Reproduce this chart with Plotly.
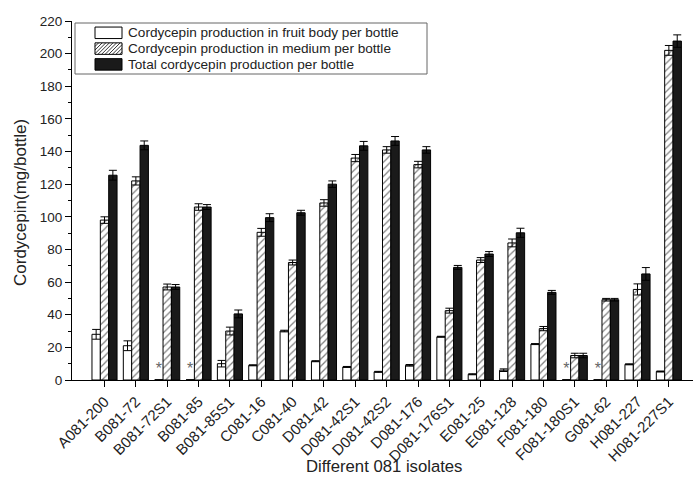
import plotly.graph_objects as go

isolates = ["A081-200", "B081-72", "B081-72S1", "B081-85", "B081-85S1", "C081-16",
            "C081-40", "D081-42", "D081-42S1", "D081-42S2", "D081-176", "D081-176S1",
            "E081-25", "E081-128", "F081-180", "F081-180S1", "G081-62", "H081-227",
            "H081-227S1"]

fruit_body = [28, 21, 0, 0, 10, 9, 30, 11.5, 8, 5, 9, 26.5, 3.5, 6, 22, 0, 0, 9.6, 5.2]
fruit_err = [3, 3, 0, 0, 2, 0.3, 0.5, 0.3, 0.3, 0.3, 0.5, 0.3, 0.3, 0.8, 0.3, 0, 0, 0.3, 0.3]

medium = [98, 122, 57, 106, 30, 90.5, 72, 108.5, 136, 141, 132, 42.5, 73.5, 84, 31.5, 15, 49.2, 55.5, 202]
medium_err = [2, 2.5, 1.8, 2, 2.4, 2.4, 1.5, 2, 2.2, 2, 2, 1.5, 1.5, 2.4, 1.3, 1.4, 0.8, 3.4, 3]

total = [125.5, 143.8, 57, 106, 40.5, 99.5, 102.5, 120, 143.5, 146.5, 141, 69, 77.2, 90.2, 53.7, 15, 49.2, 65, 207.7]
total_err = [3, 2.7, 1.5, 1.5, 2.4, 2.4, 1.5, 2, 2.7, 2.7, 2, 1.2, 1.5, 2.8, 1.2, 1.4, 0.8, 3.9, 3.8]

legend_names = ["Cordycepin production in fruit body per bottle",
                "Cordycepin production in medium per bottle",
                "Total cordycepin production per bottle"]

FONT = "Liberation Sans, Arial, sans-serif"
TXT = "#222222"

W, H = 693, 483
ML, MR, MT, MB = 72, 0, 21, 103
PW, PH = W - ML - MR, H - MT - MB


def px(x, y):
    """page pixel -> paper coords"""
    return (x - ML) / PW, (H - MB - y) / PH


star_text = ["*" if v == 0 else "" for v in fruit_body]

fig = go.Figure()
fig.add_trace(go.Bar(
    x=isolates, y=fruit_body, name=legend_names[0],
    marker=dict(color="white", line=dict(color="black", width=1)),
    error_y=dict(type="data", array=fruit_err, color="black", thickness=1, width=4),
    text=star_text, textposition="outside", cliponaxis=False,
    textfont=dict(family=FONT, size=16, color="#666666"),
))
fig.add_trace(go.Bar(
    x=isolates, y=medium, name=legend_names[1],
    marker=dict(color="white", line=dict(color="black", width=1),
                pattern=dict(shape="/", fgcolor="black", bgcolor="white",
                             size=5, solidity=0.25)),
    error_y=dict(type="data", array=medium_err, color="black", thickness=1, width=4),
))
fig.add_trace(go.Bar(
    x=isolates, y=total, name=legend_names[2],
    marker=dict(color="#1a1a1a", line=dict(color="black", width=1)),
    error_y=dict(type="data", array=total_err, color="black", thickness=1, width=4),
))

# ---- custom legend (box, swatches, labels) ----
shapes = []
annotations = []
bx0, by0 = px(75, 23)
bx1, by1 = px(427, 74)
shapes.append(dict(type="rect", xref="paper", yref="paper", x0=bx0, y0=by0, x1=bx1, y1=by1,
                   line=dict(color="#666666", width=1), fillcolor="white", layer="above"))
rows_y = [32.8, 48.6, 64.4]
sw_x0, sw_x1 = 95, 122
sw_h = 11.5
for i, (name, yc) in enumerate(zip(legend_names, rows_y)):
    ya, yb = yc - sw_h / 2, yc + sw_h / 2
    x0p, y0p = px(sw_x0, yb)
    x1p, y1p = px(sw_x1, ya)
    fill = "#1a1a1a" if i == 2 else "white"
    shapes.append(dict(type="rect", xref="paper", yref="paper", x0=x0p, y0=y0p, x1=x1p, y1=y1p,
                       line=dict(color="black", width=1), fillcolor=fill, layer="above"))
    if i == 1:
        # diagonal hatch lines clipped to swatch
        h = yb - ya
        path = ""
        c = sw_x0 - h
        while c < sw_x1:
            t0 = max(0.0, sw_x0 - c)
            t1 = min(h, sw_x1 - c)
            if t1 > t0:
                ax, ay = px(c + t0, yb - t0)
                bxx, byy = px(c + t1, yb - t1)
                path += f"M{ax},{ay}L{bxx},{byy}"
            c += 3.6
        shapes.append(dict(type="path", xref="paper", yref="paper", path=path,
                           line=dict(color="black", width=0.8), layer="above"))
    tx, ty = px(126, yc)
    annotations.append(dict(text=name, xref="paper", yref="paper", x=tx, y=ty,
                            xanchor="left", yanchor="middle", showarrow=False,
                            font=dict(family=FONT, size=13.6, color=TXT)))

# axis titles
tx, ty = px(384, 467)
annotations.append(dict(text="Different 081 isolates", xref="paper", yref="paper", x=tx, y=ty,
                        xanchor="center", yanchor="middle", showarrow=False,
                        font=dict(family=FONT, size=16.7, color=TXT)))
tx, ty = px(20, 203)
annotations.append(dict(text="Cordycepin(mg/bottle)", xref="paper", yref="paper", x=tx, y=ty,
                        xanchor="center", yanchor="middle", showarrow=False, textangle=-90,
                        font=dict(family=FONT, size=17, color=TXT)))

fig.update_layout(
    width=W, height=H,
    margin=dict(l=ML, r=MR, t=MT, b=MB, autoexpand=False),
    paper_bgcolor="white", plot_bgcolor="white",
    barmode="group", bargap=0.2, bargroupgap=0,
    font=dict(family=FONT, size=13, color=TXT),
    showlegend=False,
    shapes=shapes, annotations=annotations,
)
fig.update_xaxes(
    range=[-1.037, 18.77], showline=True, linecolor="black", linewidth=1.2,
    ticks="outside", ticklen=6, tickcolor="black", tickangle=-45, automargin=False,
    tickfont=dict(family=FONT, size=15, color=TXT),
    showgrid=False, zeroline=False,
)
fig.update_yaxes(
    range=[0, 220], tickvals=list(range(0, 221, 20)), showline=True, automargin=False,
    linecolor="black", linewidth=1.2, ticks="outside", ticklen=6, tickcolor="black",
    minor=dict(tickvals=list(range(10, 220, 20)), ticks="outside", ticklen=3, tickcolor="black"),
    tickfont=dict(family=FONT, size=13.5, color=TXT),
    showgrid=False, zeroline=False,
)

fig.write_html("out.html", config={"displayModeBar": False},
               post_script="document.body.style.margin='0';document.body.style.overflow='hidden';")
